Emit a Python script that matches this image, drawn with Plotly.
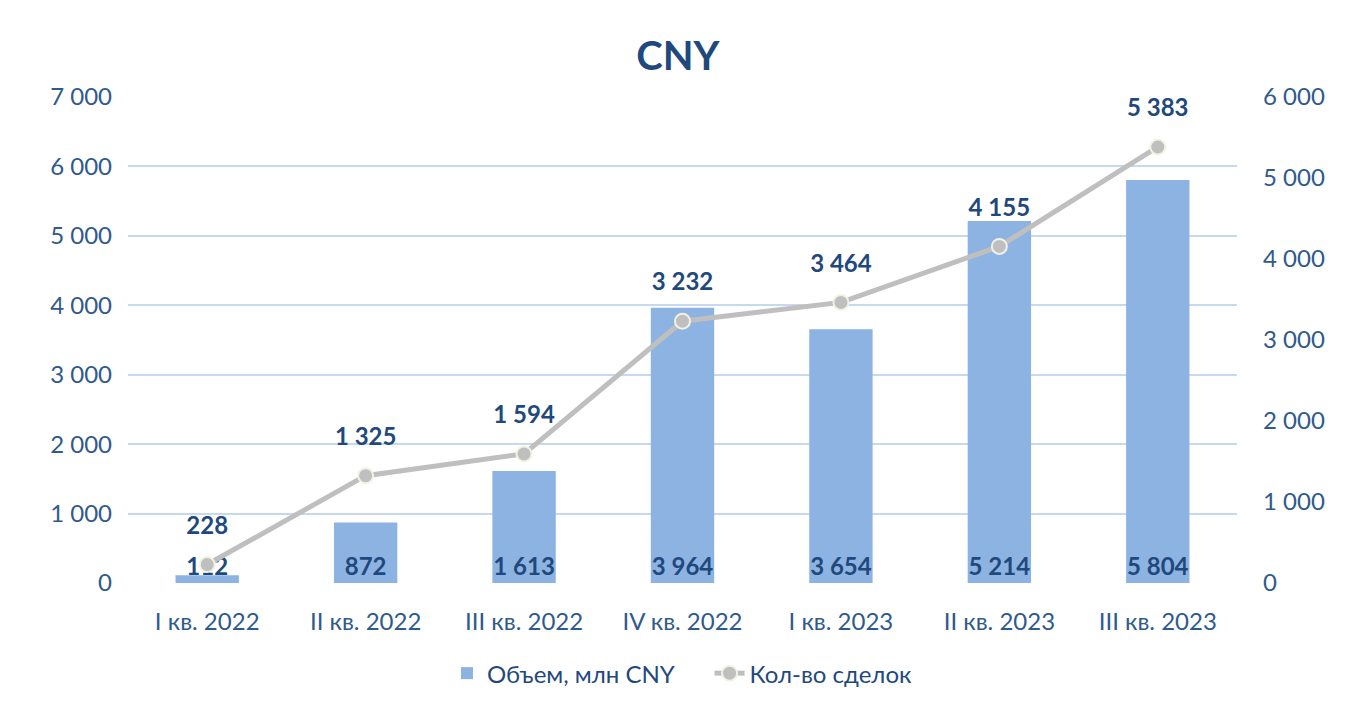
import plotly.graph_objects as go

categories = ["I кв. 2022", "II кв. 2022", "III кв. 2022", "IV кв. 2022",
              "I кв. 2023", "II кв. 2023", "III кв. 2023"]
volume = [112, 872, 1613, 3964, 3654, 5214, 5804]
deals = [228, 1325, 1594, 3232, 3464, 4155, 5383]
left_ticks = [0, 1000, 2000, 3000, 4000, 5000, 6000, 7000]
right_ticks = [0, 1000, 2000, 3000, 4000, 5000, 6000]


def fmt(v):
    return f"{v:,}".replace(",", " ")


FONT = "Lato"
DARK = "#1F497D"
TICK = "#2F5A8C"
FS = 24
GAP = "\u00a0" * 5

fig = go.Figure()
fig.add_trace(go.Bar(
    x=categories, y=volume, name="Объем, млн CNY" + GAP,
    marker=dict(color="#8DB3E2", line=dict(width=0)),
    width=0.4,
    text=[fmt(v) for v in volume], textposition="inside",
    insidetextanchor="start", constraintext="none", cliponaxis=False,
    textfont=dict(family=FONT, size=FS, color=DARK, weight="bold"),
    textangle=0, hoverinfo="x+y",
))
fig.add_trace(go.Scatter(
    x=categories, y=deals, name="Кол-во сделок", yaxis="y2",
    mode="lines+markers",
    line=dict(color="#BFBFBF", width=5),
    marker=dict(size=15, color="#BFBFBF", line=dict(color="#F2F2E4", width=2)),
    cliponaxis=False,
))
fig.add_trace(go.Scatter(
    x=categories, y=deals, yaxis="y2", showlegend=False, hoverinfo="skip",
    mode="markers+text",
    marker=dict(size=38, opacity=0),
    text=[fmt(v) for v in deals], textposition="top center",
    textfont=dict(family=FONT, size=FS, color=DARK, weight="bold"),
    cliponaxis=False,
))

fig.update_layout(
    width=1360, height=712,
    paper_bgcolor="white", plot_bgcolor="white",
    margin=dict(l=120, r=131, t=89, b=137),
    title=dict(text="<b>CNY</b>", x=0.4926, xanchor="center", y=0.932, yanchor="middle",
               font=dict(family=FONT, size=40, color=DARK)),
    font=dict(family=FONT, color=TICK),
    showlegend=True,
    legend=dict(orientation="h", x=0.5, xanchor="center", y=-0.14, yanchor="top",
                font=dict(family=FONT, size=FS, color=DARK),
                traceorder="normal"),
    xaxis=dict(showgrid=False, showline=False, ticks="",
               tickfont=dict(family=FONT, size=FS, color=TICK), ticklabelstandoff=22),
    yaxis=dict(range=[0, 7000], tickvals=left_ticks, ticktext=[fmt(v) for v in left_ticks],
               showgrid=True, gridcolor="#C6D9F1", gridwidth=2, zeroline=False,
               tickfont=dict(family=FONT, size=FS, color=TICK), ticklabelstandoff=15),
    yaxis2=dict(range=[0, 6000], tickvals=right_ticks, ticktext=[fmt(v) for v in right_ticks],
                overlaying="y", side="right", showgrid=False, zeroline=False,
                tickfont=dict(family=FONT, size=FS, color=TICK), ticklabelstandoff=25),
)

fig.write_html("out.html")
